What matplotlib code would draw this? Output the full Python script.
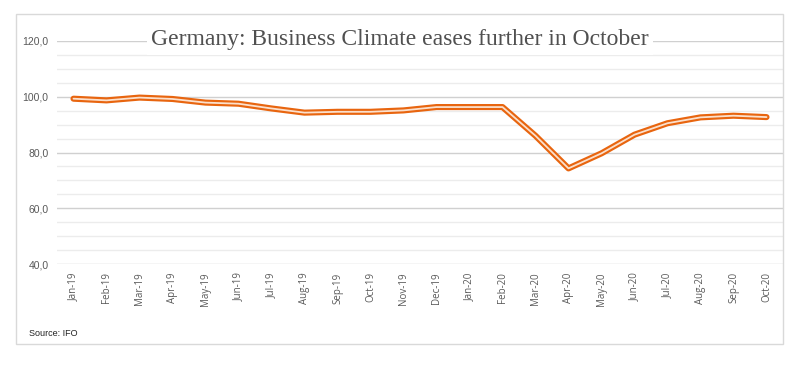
import matplotlib.pyplot as plt
import numpy as np
from matplotlib.patches import Rectangle

# ifo business climate, monthly
months = ['Jan-19', 'Feb-19', 'Mar-19', 'Apr-19', 'May-19', 'Jun-19', 'Jul-19',
          'Aug-19', 'Sep-19', 'Oct-19', 'Nov-19', 'Dec-19', 'Jan-20', 'Feb-20',
          'Mar-20', 'Apr-20', 'May-20', 'Jun-20', 'Jul-20', 'Aug-20', 'Sep-20', 'Oct-20']
climate = [99.3, 98.7, 99.7, 99.2, 97.9, 97.5, 95.8, 94.3, 94.6, 94.6, 95.1,
           96.3, 96.3, 96.3, 86.0, 74.3, 79.7, 86.4, 90.5, 92.6, 93.2, 92.7]
y_ticks = [40, 60, 80, 100, 120]

fig = plt.figure(figsize=(8.06, 3.66), dpi=100)
# light border around the whole chart
fig.patches.append(Rectangle((16 / 806, 1 - 344 / 366), 767 / 806, 330 / 366,
                             transform=fig.transFigure, fill=False,
                             edgecolor='#d9d9d9', linewidth=1))

ax = fig.add_axes([57 / 806, 1 - 264 / 366, 726 / 806, 223 / 366])
x = np.arange(len(months))

ax.set_ylim(40, 120)
ax.set_xlim(-0.5, len(months) - 0.5)
ax.set_yticks(y_ticks)
ax.set_yticks(np.arange(40, 121, 5), minor=True)
ax.set_yticklabels(['{:.1f}'.format(v).replace('.', ',') for v in y_ticks],
                   fontsize=7.5, color='#595959', family='Liberation Sans')
ax.grid(axis='y', which='major', color='#d0d0d0', linewidth=1)
ax.grid(axis='y', which='minor', color='#ececec', linewidth=1)
ax.set_axisbelow(True)
ax.set_xticks(x)
ax.set_xticklabels(months, rotation=90, fontsize=7, color='#595959', family='Open Sans')
ax.tick_params(axis='both', which='both', length=0, pad=6)
for s in ax.spines.values():
    s.set_visible(False)

# double line: orange outline with a light core
ax.plot(x, climate, color='#e8650f', linewidth=4.4, solid_capstyle='round',
        solid_joinstyle='round')
ax.plot(x, climate, color='#fbe0cc', linewidth=1.3, solid_capstyle='round',
        solid_joinstyle='round')

fig.text(400 / 806, 1 - 40 / 366, 'Germany: Business Climate eases further in October',
         ha='center', va='center', fontsize=17, color='#505050',
         family='Liberation Serif',
         bbox=dict(facecolor='white', edgecolor='none', pad=3))
fig.text(29 / 806, 1 - 334 / 366, 'Source: IFO', ha='left', va='center',
         fontsize=6.5, color='#222222', family='Liberation Sans')

fig.savefig('out.png', dpi=100)
